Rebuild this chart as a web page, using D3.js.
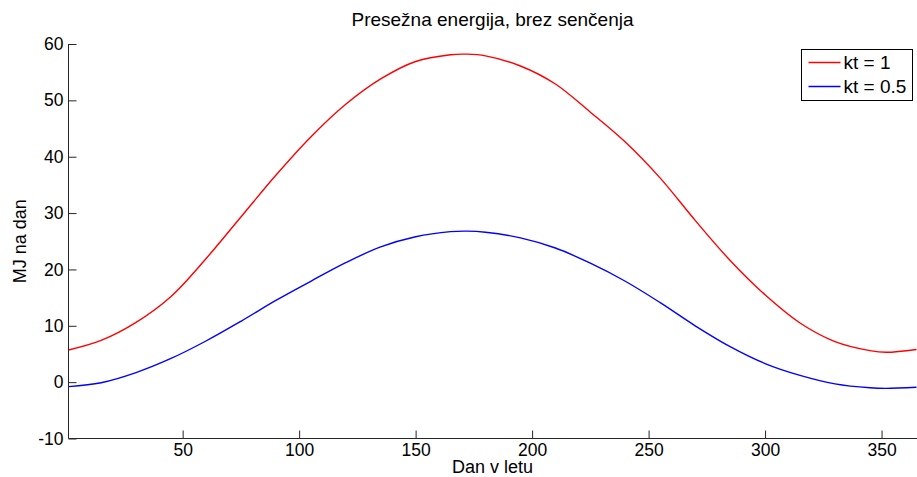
<!DOCTYPE html>
<html>
<head>
<meta charset="utf-8">
<script src="https://cdn.jsdelivr.net/npm/d3@7"></script>
<style>
  html, body { margin: 0; padding: 0; background: #fff; }
  svg { display: block; font-family: "Liberation Sans", Arial, sans-serif; }
</style>
</head>
<body>
<svg id="chart" width="917" height="477"></svg>
<script>
// Day of year at which each value was sampled
const days = [1, 15, 30, 45, 60, 75, 90, 105, 120, 135, 150, 165, 172, 180, 195, 210, 225, 240, 255, 270, 285, 300, 315, 330, 345, 352, 365];
// Excess energy, MJ per day, clear sky (kt = 1)
const kt1 = [5.7, 7.4, 10.6, 15.2, 21.9, 29.3, 36.7, 43.5, 49.3, 53.8, 56.9, 58.1, 58.2, 57.9, 56.1, 52.9, 47.9, 42.6, 36.2, 28.7, 21.6, 15.5, 10.5, 7.2, 5.6, 5.3, 5.8];
// Excess energy, MJ per day, kt = 0.5
const kt05 = [-0.8, -0.1, 1.7, 4.2, 7.3, 10.8, 14.5, 17.9, 21.2, 24.0, 25.8, 26.7, 26.8, 26.6, 25.6, 23.8, 21.1, 17.9, 14.1, 10.0, 6.3, 3.3, 1.2, -0.3, -1.0, -1.1, -0.9];

const seriesNames = ["kt = 1", "kt = 0.5"];
const seriesColors = ["#ff0000", "#0000ff"];
const xTicks = [50, 100, 150, 200, 250, 300, 350];
const yTicks = [-10, 0, 10, 20, 30, 40, 50, 60];

const titleText = "Presežna energija, brez senčenja";
const xLabel = "Dan v letu";
const yLabel = "MJ na dan";

const svg = d3.select("#chart");
const plotLeft = 68.5, plotRight = 916.5, plotTop = 44, plotBottom = 438.5;

const x = d3.scaleLinear().domain([1, 365]).range([plotLeft, plotRight]);
const y = d3.scaleLinear().domain([-10, 60]).range([plotBottom, plotTop]);

const tickFont = 17.5;
const labelFont = 18;
const textFont = 19;
const axisColor = "#262626";
// plain hyphen for negative numbers
const fmt = d => String(d);

// Curves
const line = d3.line()
  .x((d, i) => x(days[i]))
  .y(d => y(d))
  .curve(d3.curveCatmullRom.alpha(0.5));

[kt1, kt05].forEach((vals, k) => {
  svg.append("path")
    .attr("d", line(vals))
    .attr("fill", "none")
    .attr("stroke", seriesColors[k])
    .attr("stroke-width", 1.4);
});

// Y axis with inward ticks
const yAxis = d3.axisLeft(y).tickValues(yTicks).tickSize(-8).tickPadding(14).tickFormat(fmt);
const gy = svg.append("g").attr("transform", `translate(${plotLeft},0)`).call(yAxis);
// X axis with inward ticks
const xAxis = d3.axisBottom(x).tickValues(xTicks).tickSize(-8).tickPadding(14).tickFormat(fmt);
const gx = svg.append("g").attr("transform", `translate(0,${plotBottom})`).call(xAxis);

[gx, gy].forEach(g => {
  g.select(".domain").attr("stroke", axisColor).attr("stroke-width", 1);
  g.selectAll(".tick line").attr("stroke", axisColor).attr("stroke-width", 1);
  g.selectAll(".tick text").attr("fill", "#000").attr("font-size", tickFont)
    .attr("font-family", "Liberation Sans, Arial, sans-serif");
});
gy.select(".domain").attr("d", `M0,${plotBottom}V${plotTop}`);
gx.select(".domain").attr("d", `M${plotLeft},0H${plotRight + 1}`);
gy.selectAll(".tick text").attr("x", -5);
gx.selectAll(".tick text").attr("y", 5);

// Title and axis labels
svg.append("text").attr("x", (plotLeft + plotRight) / 2).attr("y", 26)
  .attr("text-anchor", "middle").attr("font-size", textFont).text(titleText);
svg.append("text").attr("x", (plotLeft + plotRight) / 2).attr("y", 473)
  .attr("text-anchor", "middle").attr("font-size", labelFont).text(xLabel);
svg.append("text")
  .attr("transform", `translate(26,${(plotTop + plotBottom) / 2}) rotate(-90)`)
  .attr("text-anchor", "middle").attr("font-size", labelFont).text(yLabel);

// Legend
const lg = svg.append("g").attr("transform", "translate(801.5,49.5)");
lg.append("rect").attr("width", 111).attr("height", 51)
  .attr("fill", "#fff").attr("stroke", "#000").attr("stroke-width", 1);
seriesNames.forEach((name, i) => {
  const yy = 13 + i * 24;
  lg.append("line").attr("x1", 7).attr("x2", 39).attr("y1", yy).attr("y2", yy)
    .attr("stroke", seriesColors[i]).attr("stroke-width", 1.4);
  lg.append("text").attr("x", 42).attr("y", yy + 6.5)
    .attr("font-size", textFont).text(name);
});
</script>
</body>
</html>
